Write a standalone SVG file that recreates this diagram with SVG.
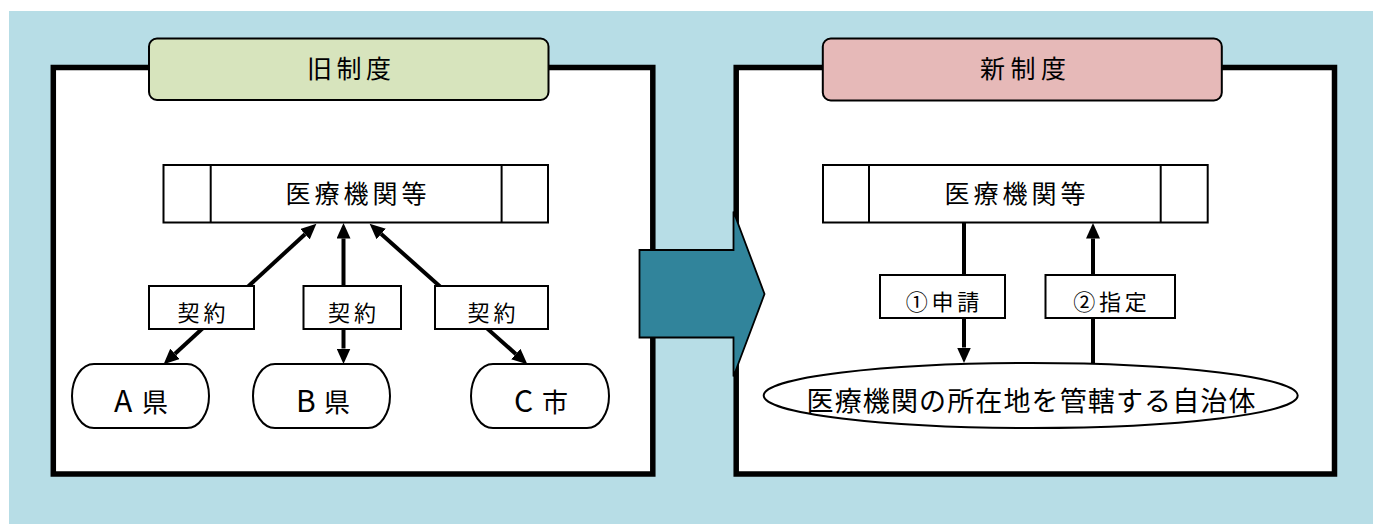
<svg xmlns="http://www.w3.org/2000/svg" width="1373" height="524" viewBox="0 0 1373 524">
<style>
text{font-family:"Noto Sans CJK JP","Noto Sans",sans-serif;fill:#000;text-anchor:middle}
.frame{fill:#fff;stroke:#000;stroke-width:5.5}
.box{fill:#fff;stroke:#000;stroke-width:2}
.tab{stroke:#000;stroke-width:2}
.conn{stroke:#000;stroke-width:4;fill:none}
.lat{font-size:30px}
</style>
<defs>
<marker id="ah" markerUnits="userSpaceOnUse" markerWidth="16" markerHeight="14" viewBox="0 0 16 14" refX="0" refY="7" orient="auto-start-reverse">
<path d="M0,0 L15.5,7 L0,14 z" fill="#000"/>
</marker>
</defs>
<rect x="9" y="11" width="1364" height="513" fill="#B7DDE6"/>

<g id="frame-old"><rect class="frame" x="53.3" y="67.5" width="599.5" height="406.5"/></g>
<g id="frame-new"><rect class="frame" x="736.2" y="67.5" width="598.3" height="406.5"/></g>

<g id="tab-old">
<rect class="tab" x="149" y="38.5" width="399.5" height="61.5" rx="8" fill="#D7E4BD"/>
<text x="349" y="78" font-size="25" textLength="84" lengthAdjust="spacing">旧制度</text>
</g>
<g id="tab-new">
<rect class="tab" x="822.8" y="38.5" width="399" height="62" rx="8" fill="#E6B9B8"/>
<text x="1023" y="78" font-size="25" textLength="86" lengthAdjust="spacing">新制度</text>
</g>

<g id="big-arrow">
<polygon points="639.5,250 733.5,250 733.5,211.5 764.5,294 733.5,376.5 733.5,337.5 639.5,337.5" fill="#31849B" stroke="#000" stroke-width="1.8"/>
</g>

<g id="connectors">
<line class="conn" x1="305" y1="234.2" x2="175" y2="353.8" marker-start="url(#ah)" marker-end="url(#ah)"/>
<line class="conn" x1="343.5" y1="238.5" x2="343.5" y2="348.5" marker-start="url(#ah)" marker-end="url(#ah)"/>
<line class="conn" x1="381.2" y1="234" x2="515.8" y2="354" marker-start="url(#ah)" marker-end="url(#ah)"/>
<line class="conn" x1="964" y1="222" x2="964" y2="347.5" marker-end="url(#ah)"/>
<line class="conn" x1="1093" y1="363" x2="1093" y2="238.5" marker-end="url(#ah)"/>
</g>

<g id="med-old">
<rect class="box" x="163.5" y="165" width="384.5" height="57.5"/>
<line class="box" x1="210.7" y1="165" x2="210.7" y2="222.5"/>
<line class="box" x1="501.6" y1="165" x2="501.6" y2="222.5"/>
<text x="356" y="203" font-size="25" textLength="141" lengthAdjust="spacing">医療機関等</text>
</g>
<g id="med-new">
<rect class="box" x="823" y="165" width="384.7" height="57.5"/>
<line class="box" x1="869" y1="165" x2="869" y2="222.5"/>
<line class="box" x1="1160.7" y1="165" x2="1160.7" y2="222.5"/>
<text x="1015" y="203" font-size="25" textLength="141" lengthAdjust="spacing">医療機関等</text>
</g>

<g id="label-a">
<rect class="box" x="149" y="286" width="105" height="43"/>
<text x="201.5" y="321" font-size="22" textLength="48" lengthAdjust="spacing">契約</text>
</g>
<g id="label-b">
<rect class="box" x="303.5" y="286" width="97.5" height="43"/>
<text x="352" y="321" font-size="22" textLength="48" lengthAdjust="spacing">契約</text>
</g>
<g id="label-c">
<rect class="box" x="435" y="286" width="113" height="43"/>
<text x="491.5" y="321" font-size="22" textLength="48" lengthAdjust="spacing">契約</text>
</g>

<g id="pref-a">
<rect class="box" x="72" y="364" width="137" height="64" rx="22" ry="32"/>
<text x="141" y="411.5" font-size="26" textLength="54" lengthAdjust="spacing"><tspan class="lat">A</tspan>県</text>
</g>
<g id="pref-b">
<rect class="box" x="253" y="364" width="137" height="64" rx="22" ry="32"/>
<text x="323" y="411.5" font-size="26" textLength="54" lengthAdjust="spacing"><tspan class="lat">B</tspan>県</text>
</g>
<g id="city-c">
<rect class="box" x="471" y="364" width="138" height="64" rx="22" ry="32"/>
<text x="541" y="411.5" font-size="26" textLength="54" lengthAdjust="spacing"><tspan class="lat">C</tspan>市</text>
</g>

<g id="label-apply">
<rect class="box" x="880" y="275" width="125" height="43"/>
<text x="942.5" y="310" font-size="22" textLength="73.5" lengthAdjust="spacing">①申請</text>
</g>
<g id="label-designate">
<rect class="box" x="1045.5" y="275" width="129.5" height="43"/>
<text x="1110" y="310" font-size="22" textLength="73.5" lengthAdjust="spacing">②指定</text>
</g>

<g id="local-gov">
<ellipse class="box" cx="1030.7" cy="395.5" rx="267" ry="32.5"/>
<text x="1031" y="410.8" font-size="27" textLength="449" lengthAdjust="spacing">医療機関の所在地を管轄する自治体</text>
</g>
</svg>
